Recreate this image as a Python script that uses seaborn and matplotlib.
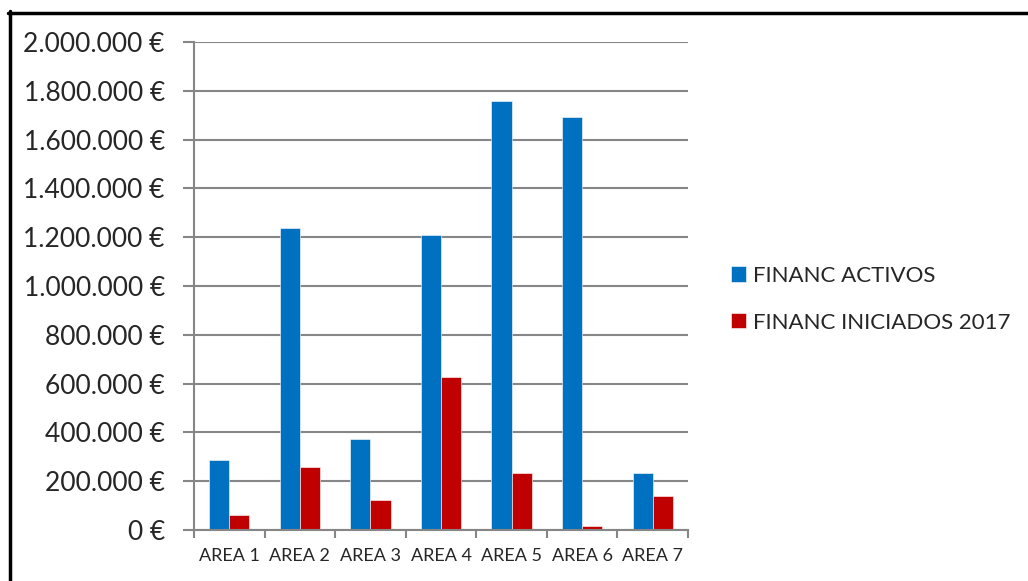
import matplotlib
matplotlib.use("Agg")
import matplotlib.pyplot as plt
import matplotlib.ticker as mticker
from matplotlib.lines import Line2D
import seaborn as sns
import pandas as pd

# values
areas = ["AREA 1", "AREA 2", "AREA 3", "AREA 4", "AREA 5", "AREA 6", "AREA 7"]
activos = [287000, 1239000, 372000, 1211000, 1758000, 1693000, 233000]
iniciados = [62000, 257000, 123000, 627000, 235000, 15000, 141000]
series_names = ["FINANC ACTIVOS", "FINANC INICIADOS 2017"]
colors = ["#0070C0", "#C00000"]

df = pd.DataFrame({
    "area": areas * 2,
    "valor": activos + iniciados,
    "serie": [series_names[0]] * len(areas) + [series_names[1]] * len(areas),
})

sns.set_style("white")
plt.rcParams["font.family"] = ["Lato", "DejaVu Sans"]

fig = plt.figure(figsize=(10.28, 5.81), dpi=100)
ax = fig.add_axes([0.1887, 0.0878, 0.4806, 0.8399])

sns.barplot(data=df, x="area", y="valor", hue="serie", palette=colors,
            width=0.57, saturation=1, edgecolor="#ffffff", linewidth=0.4,
            ax=ax, legend=True)

ax.set_ylim(0, 2000000)
ax.set_xlim(-0.5, len(areas) - 0.5)
ax.set_xlabel("")
ax.set_ylabel("")

grid_c = "#868686"
ax.set_yticks(range(0, 2000001, 200000))
ax.yaxis.set_major_formatter(mticker.FuncFormatter(
    lambda v, p: f"{int(v):,}".replace(",", ".") + " €"))
ax.yaxis.grid(True, color=grid_c, linewidth=1.5)
ax.set_axisbelow(True)
ax.tick_params(axis="y", length=8, width=1.5, color=grid_c, labelsize=19,
               pad=13, direction="out", left=True)

# category boundaries as major ticks, labels on minor ticks
ax.set_xticks([i - 0.5 for i in range(len(areas) + 1)])
ax.set_xticklabels([])
ax.set_xticks(range(len(areas)), minor=True)
ax.set_xticklabels(areas, minor=True)
ax.tick_params(axis="x", which="major", length=6, width=1.5, color=grid_c,
               direction="out", bottom=True)
ax.tick_params(axis="x", which="minor", length=0, labelsize=13, pad=13)

for s in ["top", "right"]:
    ax.spines[s].set_visible(False)
for s in ["left", "bottom"]:
    ax.spines[s].set_color(grid_c)
    ax.spines[s].set_linewidth(1.5)

leg = ax.legend(loc="center left", bbox_to_anchor=(1.087, 0.473), frameon=False,
                fontsize=16, handlelength=0.67, handleheight=0.67,
                handletextpad=0.33, labelspacing=1.2, borderpad=0,
                borderaxespad=0)

# frame lines around the chart (top and left only, as in the reference)
fig.add_artist(Line2D([8 / 1028, 1], [1 - 12.5 / 581, 1 - 12.5 / 581],
                      color="black", linewidth=2.5, transform=fig.transFigure))
fig.add_artist(Line2D([9.5 / 1028, 9.5 / 1028], [0, 1 - 11 / 581],
                      color="black", linewidth=2.5, transform=fig.transFigure))

fig.savefig("out.png", dpi=100, facecolor="white")
